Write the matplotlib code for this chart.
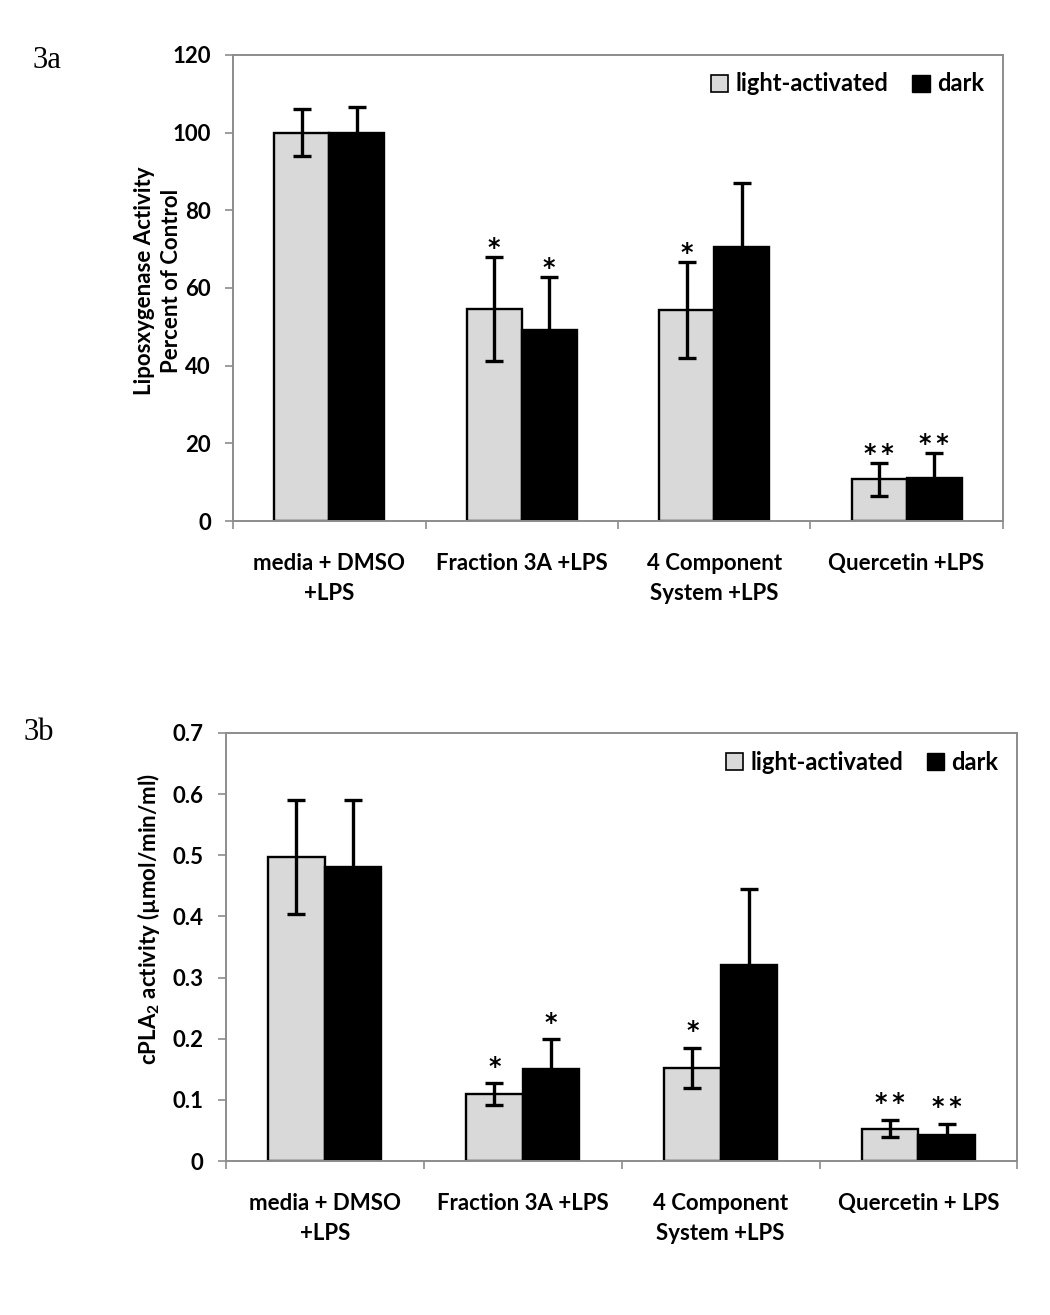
import matplotlib
matplotlib.use("Agg")
import matplotlib.pyplot as plt
import numpy as np
from matplotlib.patches import Patch

plt.rcParams["font.family"] = ["Lato", "DejaVu Sans"]
plt.rcParams["mathtext.fontset"] = "custom"
plt.rcParams["mathtext.rm"] = "Lato"
plt.rcParams["mathtext.bf"] = "Lato:bold"

# ---- data ----
series = ["light-activated", "dark"]

cats_a = ["media + DMSO\n+LPS", "Fraction 3A +LPS", "4 Component\nSystem +LPS", "Quercetin +LPS"]
light_a = [100.0, 54.6, 54.3, 10.7]
light_a_err = [6.0, 13.3, 12.3, 4.2]
dark_a = [99.9, 49.3, 70.5, 11.1]
dark_a_err = [6.8, 13.6, 16.6, 6.5]
stars_light_a = ["", "*", "*", "**"]
stars_dark_a = ["", "*", "", "**"]

cats_b = ["media + DMSO\n+LPS", "Fraction 3A +LPS", "4 Component\nSystem +LPS", "Quercetin + LPS"]
light_b = [0.497, 0.109, 0.152, 0.053]
light_b_err = [0.093, 0.018, 0.033, 0.014]
dark_b = [0.481, 0.150, 0.321, 0.043]
dark_b_err = [0.110, 0.049, 0.124, 0.018]
stars_light_b = ["", "*", "*", "**"]
stars_dark_b = ["", "*", "", "**"]

LIGHT = "#d9d9d9"
SPINE = "#8c8c8c"
W = 0.286


def panel(ax, cats, light, light_err, dark, dark_err, s_light, s_dark,
          ylim, yticks, yticklabels, ylabel, star_pad, label_xy):
    x = np.arange(len(cats))
    ek = dict(ecolor="black", elinewidth=2.4, capsize=6.5, capthick=2.4)
    ax.bar(x - W / 2, light, W, color=LIGHT, edgecolor="black", linewidth=1.7,
           yerr=light_err, error_kw=ek, zorder=2)
    ax.bar(x + W / 2, dark, W, color="black", edgecolor="black", linewidth=1.7,
           yerr=dark_err, error_kw=ek, zorder=2)
    for xs, vals, errs, marks in [(x - W / 2, light, light_err, s_light),
                                  (x + W / 2, dark, dark_err, s_dark)]:
        for xi, v, e, s in zip(xs, vals, errs, marks):
            if s:
                ax.annotate("\u2009".join(s), (xi, v + e), xytext=(0, star_pad),
                            textcoords="offset points", ha="center", va="baseline",
                            fontsize=17, family="DejaVu Sans", fontweight="bold")

    ax.set_xlim(-0.5, len(cats) - 0.5)
    ax.set_ylim(*ylim)
    ax.set_yticks(yticks)
    ax.set_yticklabels(yticklabels, fontsize=16, fontweight="bold")
    ax.set_xticks(np.arange(len(cats) + 1) - 0.5)
    ax.set_xticklabels([])
    ax.set_xticks(x, minor=True)
    ax.set_xticklabels(cats, minor=True, fontsize=16, fontweight="bold",
                       linespacing=1.55, va="top")
    ax.tick_params(axis="x", which="minor", length=0, pad=23)
    ax.tick_params(axis="x", which="major", length=6, width=1.2, color=SPINE, direction="out")
    ax.tick_params(axis="y", length=6, width=1.2, color=SPINE, pad=10)
    for sp in ax.spines.values():
        sp.set_color(SPINE)
        sp.set_linewidth(1.4)
    ax.set_ylabel(ylabel, fontsize=16, fontweight="bold", linespacing=1.35)
    ax.yaxis.set_label_coords(*label_xy)

    handles = [Patch(facecolor=LIGHT, edgecolor="black", linewidth=1.2, label=series[0]),
               Patch(facecolor="black", edgecolor="black", label=series[1])]
    ax.legend(handles=handles, ncol=2, loc="upper right", frameon=False,
              prop=dict(size=17, weight="bold"), handlelength=0.75, handleheight=0.75,
              handletextpad=0.3, columnspacing=1.0, bbox_to_anchor=(1.003, 1.008))


fig = plt.figure(figsize=(10.5, 13.15), dpi=100)
ax1 = fig.add_axes([0.222, 0.6038, 0.733, 0.3544])
ax2 = fig.add_axes([0.215, 0.1171, 0.754, 0.3255])

panel(ax1, cats_a, light_a, light_a_err, dark_a, dark_a_err, stars_light_a, stars_dark_a,
      (0, 120), np.arange(0, 121, 20), [str(v) for v in range(0, 121, 20)],
      "Liposxygenase Activity\nPercent of Control", 1.5, (-0.066, 0.515))
panel(ax2, cats_b, light_b, light_b_err, dark_b, dark_b_err, stars_light_b, stars_dark_b,
      (0, 0.7), np.arange(0, 0.71, 0.1), ["0"] + [f"{v:.1f}" for v in np.arange(0.1, 0.71, 0.1)],
      r"cPLA$_{\mathbf{2}}$ activity (µmol/min/ml)", 7, (-0.08, 0.565))

fig.text(0.031, 0.954, "3a", fontsize=22, family="Liberation Serif", va="center")
fig.text(0.022, 0.443, "3b", fontsize=22, family="Liberation Serif", va="center")

fig.savefig("out.png", dpi=100)
